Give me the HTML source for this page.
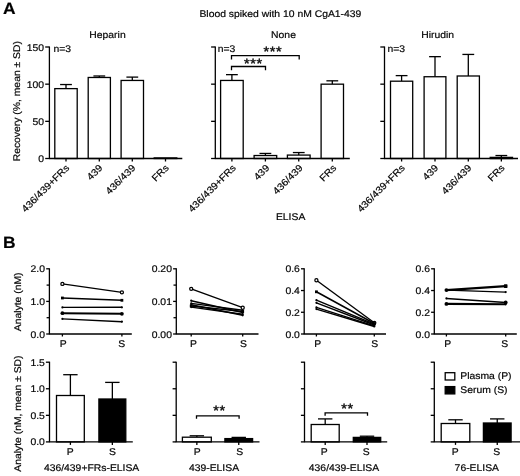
<!DOCTYPE html>
<html><head><meta charset="utf-8"><title>Figure</title>
<style>
html,body{margin:0;padding:0;background:#fff;}
svg{display:block;}
svg text{text-rendering:geometricPrecision;stroke:#111;stroke-width:0.2px;font-family:"Liberation Sans",sans-serif;fill:#000;}
</style></head><body>
<svg width="520" height="476" viewBox="0 0 520 476">
<rect x="0" y="0" width="520" height="476" fill="#fff"/>
<text transform="translate(3.1,14) scale(1.07,1)" font-size="16.3" text-anchor="start" font-weight="bold" >A</text>
<text transform="translate(280.4,17) scale(1.07,1)" font-size="9.7" text-anchor="middle" font-weight="normal" >Blood spiked with 10 nM CgA1-439</text>
<text transform="translate(19.6,101.2) rotate(-90) scale(1.07,1)" font-size="9.7" text-anchor="middle">Recovery (%, mean ± SD)</text>
<line x1="66.0" y1="88.62666666666667" x2="66.0" y2="84.53833333333333" stroke="#000" stroke-width="1.3" />
<line x1="60.1" y1="84.53833333333333" x2="71.9" y2="84.53833333333333" stroke="#000" stroke-width="1.3" />
<rect x="54.8" y="88.62666666666667" width="22.400000000000006" height="69.87333333333333" fill="#fff" stroke="#000" stroke-width="1.3"/>
<line x1="99.30000000000001" y1="77.47666666666667" x2="99.30000000000001" y2="75.99" stroke="#000" stroke-width="1.3" />
<line x1="93.4" y1="75.99" x2="105.20000000000002" y2="75.99" stroke="#000" stroke-width="1.3" />
<rect x="88.2" y="77.47666666666667" width="22.200000000000003" height="81.02333333333333" fill="#fff" stroke="#000" stroke-width="1.3"/>
<line x1="132.3" y1="80.45" x2="132.3" y2="77.105" stroke="#000" stroke-width="1.3" />
<line x1="126.4" y1="77.105" x2="138.20000000000002" y2="77.105" stroke="#000" stroke-width="1.3" />
<rect x="121.1" y="80.45" width="22.400000000000006" height="78.05" fill="#fff" stroke="#000" stroke-width="1.3"/>
<rect x="154.2" y="157.90533333333335" width="22.600000000000023" height="0.5946666666666545" fill="#fff" stroke="#000" stroke-width="1.3"/>
<line x1="49.4" y1="46.5" x2="49.4" y2="158.5" stroke="#000" stroke-width="1.3" />
<line x1="48.9" y1="158.5" x2="182.3" y2="158.5" stroke="#000" stroke-width="1.3" />
<line x1="45.199999999999996" y1="158.5" x2="49.4" y2="158.5" stroke="#000" stroke-width="1.3" />
<text transform="translate(44.1,162.0) scale(1.07,1)" font-size="9.7" text-anchor="end" font-weight="normal" >0</text>
<line x1="45.199999999999996" y1="121.33333333333334" x2="49.4" y2="121.33333333333334" stroke="#000" stroke-width="1.3" />
<text transform="translate(44.1,124.83333333333334) scale(1.07,1)" font-size="9.7" text-anchor="end" font-weight="normal" >50</text>
<line x1="45.199999999999996" y1="84.16666666666667" x2="49.4" y2="84.16666666666667" stroke="#000" stroke-width="1.3" />
<text transform="translate(44.1,87.66666666666667) scale(1.07,1)" font-size="9.7" text-anchor="end" font-weight="normal" >100</text>
<line x1="45.199999999999996" y1="47.0" x2="49.4" y2="47.0" stroke="#000" stroke-width="1.3" />
<text transform="translate(44.1,50.5) scale(1.07,1)" font-size="9.7" text-anchor="end" font-weight="normal" >150</text>
<line x1="66.0" y1="158.5" x2="66.0" y2="161.5" stroke="#000" stroke-width="1.3" />
<text transform="translate(69.8,168.5) rotate(-45) scale(1.07,1)" font-size="9.7" text-anchor="end">436/439+FRs</text>
<line x1="99.30000000000001" y1="158.5" x2="99.30000000000001" y2="161.5" stroke="#000" stroke-width="1.3" />
<text transform="translate(103.10000000000001,168.5) rotate(-45) scale(1.07,1)" font-size="9.7" text-anchor="end">439</text>
<line x1="132.3" y1="158.5" x2="132.3" y2="161.5" stroke="#000" stroke-width="1.3" />
<text transform="translate(136.10000000000002,168.5) rotate(-45) scale(1.07,1)" font-size="9.7" text-anchor="end">436/439</text>
<line x1="165.5" y1="158.5" x2="165.5" y2="161.5" stroke="#000" stroke-width="1.3" />
<text transform="translate(169.3,168.5) rotate(-45) scale(1.07,1)" font-size="9.7" text-anchor="end">FRs</text>
<text transform="translate(107.5,38.45) scale(1.07,1)" font-size="9.7" text-anchor="middle" font-weight="normal" >Heparin</text>
<text transform="translate(53.5,52.3) scale(1.07,1)" font-size="9.7" text-anchor="start" font-weight="normal" >n=3</text>
<line x1="231.89999999999998" y1="80.45" x2="231.89999999999998" y2="74.652" stroke="#000" stroke-width="1.3" />
<line x1="225.99999999999997" y1="74.652" x2="237.79999999999998" y2="74.652" stroke="#000" stroke-width="1.3" />
<rect x="220.6" y="80.45" width="22.599999999999994" height="78.05" fill="#fff" stroke="#000" stroke-width="1.3"/>
<line x1="265.4" y1="155.52666666666667" x2="265.4" y2="153.44533333333334" stroke="#000" stroke-width="1.3" />
<line x1="259.5" y1="153.44533333333334" x2="271.29999999999995" y2="153.44533333333334" stroke="#000" stroke-width="1.3" />
<rect x="254.1" y="155.52666666666667" width="22.599999999999994" height="2.973333333333329" fill="#fff" stroke="#000" stroke-width="1.3"/>
<line x1="298.75" y1="155.08066666666667" x2="298.75" y2="152.55333333333334" stroke="#000" stroke-width="1.3" />
<line x1="292.85" y1="152.55333333333334" x2="304.65" y2="152.55333333333334" stroke="#000" stroke-width="1.3" />
<rect x="287.4" y="155.08066666666667" width="22.700000000000045" height="3.419333333333327" fill="#fff" stroke="#000" stroke-width="1.3"/>
<line x1="332.3" y1="84.16666666666667" x2="332.3" y2="80.82166666666667" stroke="#000" stroke-width="1.3" />
<line x1="326.40000000000003" y1="80.82166666666667" x2="338.2" y2="80.82166666666667" stroke="#000" stroke-width="1.3" />
<rect x="321.1" y="84.16666666666667" width="22.399999999999977" height="74.33333333333333" fill="#fff" stroke="#000" stroke-width="1.3"/>
<line x1="215.3" y1="46.5" x2="215.3" y2="158.5" stroke="#000" stroke-width="1.3" />
<line x1="214.8" y1="158.5" x2="349.8" y2="158.5" stroke="#000" stroke-width="1.3" />
<line x1="211.10000000000002" y1="158.5" x2="215.3" y2="158.5" stroke="#000" stroke-width="1.3" />
<line x1="211.10000000000002" y1="121.33333333333334" x2="215.3" y2="121.33333333333334" stroke="#000" stroke-width="1.3" />
<line x1="211.10000000000002" y1="84.16666666666667" x2="215.3" y2="84.16666666666667" stroke="#000" stroke-width="1.3" />
<line x1="211.10000000000002" y1="47.0" x2="215.3" y2="47.0" stroke="#000" stroke-width="1.3" />
<line x1="231.89999999999998" y1="158.5" x2="231.89999999999998" y2="161.5" stroke="#000" stroke-width="1.3" />
<text transform="translate(236.5,168.5) rotate(-45) scale(1.07,1)" font-size="9.7" text-anchor="end">436/439+FRs</text>
<line x1="265.4" y1="158.5" x2="265.4" y2="161.5" stroke="#000" stroke-width="1.3" />
<text transform="translate(270.0,168.5) rotate(-45) scale(1.07,1)" font-size="9.7" text-anchor="end">439</text>
<line x1="298.75" y1="158.5" x2="298.75" y2="161.5" stroke="#000" stroke-width="1.3" />
<text transform="translate(303.35,168.5) rotate(-45) scale(1.07,1)" font-size="9.7" text-anchor="end">436/439</text>
<line x1="332.3" y1="158.5" x2="332.3" y2="161.5" stroke="#000" stroke-width="1.3" />
<text transform="translate(336.90000000000003,168.5) rotate(-45) scale(1.07,1)" font-size="9.7" text-anchor="end">FRs</text>
<text transform="translate(283.5,38.45) scale(1.07,1)" font-size="9.7" text-anchor="middle" font-weight="normal" >None</text>
<text transform="translate(217.8,52.3) scale(1.07,1)" font-size="9.7" text-anchor="start" font-weight="normal" >n=3</text>
<line x1="401.6" y1="81.19333333333333" x2="401.6" y2="75.61833333333334" stroke="#000" stroke-width="1.3" />
<line x1="395.70000000000005" y1="75.61833333333334" x2="407.5" y2="75.61833333333334" stroke="#000" stroke-width="1.3" />
<rect x="390.5" y="81.19333333333333" width="22.19999999999999" height="77.30666666666667" fill="#fff" stroke="#000" stroke-width="1.3"/>
<line x1="435.0" y1="76.73333333333333" x2="435.0" y2="56.66333333333333" stroke="#000" stroke-width="1.3" />
<line x1="429.1" y1="56.66333333333333" x2="440.9" y2="56.66333333333333" stroke="#000" stroke-width="1.3" />
<rect x="424.1" y="76.73333333333333" width="21.799999999999955" height="81.76666666666667" fill="#fff" stroke="#000" stroke-width="1.3"/>
<line x1="468.29999999999995" y1="75.99" x2="468.29999999999995" y2="54.43333333333334" stroke="#000" stroke-width="1.3" />
<line x1="462.4" y1="54.43333333333334" x2="474.19999999999993" y2="54.43333333333334" stroke="#000" stroke-width="1.3" />
<rect x="457.2" y="75.99" width="22.19999999999999" height="82.51" fill="#fff" stroke="#000" stroke-width="1.3"/>
<line x1="501.35" y1="157.385" x2="501.35" y2="155.52666666666667" stroke="#000" stroke-width="1.3" />
<line x1="495.45000000000005" y1="155.52666666666667" x2="507.25" y2="155.52666666666667" stroke="#000" stroke-width="1.3" />
<rect x="490.2" y="157.385" width="22.30000000000001" height="1.115000000000009" fill="#fff" stroke="#000" stroke-width="1.3"/>
<line x1="384.5" y1="46.5" x2="384.5" y2="158.5" stroke="#000" stroke-width="1.3" />
<line x1="384.0" y1="158.5" x2="518" y2="158.5" stroke="#000" stroke-width="1.3" />
<line x1="380.3" y1="158.5" x2="384.5" y2="158.5" stroke="#000" stroke-width="1.3" />
<line x1="380.3" y1="121.33333333333334" x2="384.5" y2="121.33333333333334" stroke="#000" stroke-width="1.3" />
<line x1="380.3" y1="84.16666666666667" x2="384.5" y2="84.16666666666667" stroke="#000" stroke-width="1.3" />
<line x1="380.3" y1="47.0" x2="384.5" y2="47.0" stroke="#000" stroke-width="1.3" />
<line x1="401.6" y1="158.5" x2="401.6" y2="161.5" stroke="#000" stroke-width="1.3" />
<text transform="translate(405.40000000000003,168.5) rotate(-45) scale(1.07,1)" font-size="9.7" text-anchor="end">436/439+FRs</text>
<line x1="435.0" y1="158.5" x2="435.0" y2="161.5" stroke="#000" stroke-width="1.3" />
<text transform="translate(438.8,168.5) rotate(-45) scale(1.07,1)" font-size="9.7" text-anchor="end">439</text>
<line x1="468.29999999999995" y1="158.5" x2="468.29999999999995" y2="161.5" stroke="#000" stroke-width="1.3" />
<text transform="translate(472.09999999999997,168.5) rotate(-45) scale(1.07,1)" font-size="9.7" text-anchor="end">436/439</text>
<line x1="501.35" y1="158.5" x2="501.35" y2="161.5" stroke="#000" stroke-width="1.3" />
<text transform="translate(505.15000000000003,168.5) rotate(-45) scale(1.07,1)" font-size="9.7" text-anchor="end">FRs</text>
<text transform="translate(437.7,38.45) scale(1.07,1)" font-size="9.7" text-anchor="middle" font-weight="normal" >Hirudin</text>
<text transform="translate(387.5,52.3) scale(1.07,1)" font-size="9.7" text-anchor="start" font-weight="normal" >n=3</text>
<polyline points="231.5,59.400000000000006 231.5,55.7 299.2,55.7 299.2,59.400000000000006" fill="none" stroke="#000" stroke-width="1.3"/>
<polyline points="231.5,70.2 231.5,66.5 265.5,66.5 265.5,70.2" fill="none" stroke="#000" stroke-width="1.3"/>
<text transform="translate(272.8,56.2) scale(1.07,1)" font-size="13.5" text-anchor="middle" font-weight="normal" letter-spacing="0.55" style="stroke-width:0.4px">***</text>
<text transform="translate(253.3,68.2) scale(1.07,1)" font-size="13.5" text-anchor="middle" font-weight="normal" letter-spacing="0.55" style="stroke-width:0.4px">***</text>
<text transform="translate(290.6,220.2) scale(1.07,1)" font-size="9.7" text-anchor="middle" font-weight="normal" >ELISA</text>
<text transform="translate(2.9,247.9) scale(1.07,1)" font-size="16.3" text-anchor="start" font-weight="bold" >B</text>
<text transform="translate(20.8,301.9) rotate(-90) scale(1.07,1)" font-size="9.7" text-anchor="middle">Analyte (nM)</text>
<text transform="translate(21,413.6) rotate(-90) scale(1.07,1)" font-size="9.7" text-anchor="middle">Analyte (nM, mean ± SD)</text>
<line x1="62.4" y1="283.9" x2="121.9" y2="292.3" stroke="#000" stroke-width="1.35" />
<circle cx="62.4" cy="283.9" r="1.55" fill="#fff" stroke="#000" stroke-width="1.25"/>
<circle cx="121.9" cy="292.3" r="1.55" fill="#fff" stroke="#000" stroke-width="1.25"/>
<line x1="62.4" y1="298" x2="121.9" y2="300.3" stroke="#000" stroke-width="1.55" />
<rect x="61.0" y="296.6" width="2.8" height="2.8" fill="#000"/>
<rect x="120.5" y="298.90000000000003" width="2.8" height="2.8" fill="#000"/>
<line x1="62.4" y1="307.4" x2="121.9" y2="307.3" stroke="#000" stroke-width="1.4" />
<circle cx="62.4" cy="307.4" r="1.1" fill="#000"/>
<circle cx="121.9" cy="307.3" r="1.1" fill="#000"/>
<line x1="62.4" y1="313.2" x2="121.9" y2="313.8" stroke="#000" stroke-width="2.0" />
<circle cx="62.4" cy="313.2" r="1.9" fill="#000"/>
<circle cx="121.9" cy="313.8" r="1.9" fill="#000"/>
<line x1="62.4" y1="318.9" x2="121.9" y2="321.7" stroke="#000" stroke-width="1.4" />
<circle cx="62.4" cy="318.9" r="1.1" fill="#000"/>
<circle cx="121.9" cy="321.7" r="1.1" fill="#000"/>
<line x1="49.4" y1="268.3" x2="49.4" y2="334.0" stroke="#000" stroke-width="1.3" />
<line x1="48.9" y1="334.0" x2="131.8" y2="334.0" stroke="#000" stroke-width="1.3" />
<line x1="46.199999999999996" y1="268.8" x2="49.4" y2="268.8" stroke="#000" stroke-width="1.3" />
<text transform="translate(44.99999999999999,272.3) scale(1.07,1)" font-size="9.7" text-anchor="end" font-weight="normal" >2.0</text>
<line x1="46.199999999999996" y1="301.4" x2="49.4" y2="301.4" stroke="#000" stroke-width="1.3" />
<text transform="translate(44.99999999999999,304.9) scale(1.07,1)" font-size="9.7" text-anchor="end" font-weight="normal" >1.0</text>
<line x1="46.199999999999996" y1="334.0" x2="49.4" y2="334.0" stroke="#000" stroke-width="1.3" />
<text transform="translate(44.99999999999999,337.5) scale(1.07,1)" font-size="9.7" text-anchor="end" font-weight="normal" >0.0</text>
<line x1="46.6" y1="285.1" x2="49.4" y2="285.1" stroke="#000" stroke-width="1.3" />
<line x1="46.6" y1="317.7" x2="49.4" y2="317.7" stroke="#000" stroke-width="1.3" />
<line x1="62.4" y1="334.0" x2="62.4" y2="336.5" stroke="#000" stroke-width="1.3" />
<text transform="translate(63.1,346.7) scale(1.07,1)" font-size="9.7" text-anchor="middle" font-weight="normal" >P</text>
<line x1="121.9" y1="334.0" x2="121.9" y2="336.5" stroke="#000" stroke-width="1.3" />
<text transform="translate(121.8,346.7) scale(1.07,1)" font-size="9.7" text-anchor="middle" font-weight="normal" >S</text>
<line x1="191.2" y1="300.7" x2="242.7" y2="312.5" stroke="#000" stroke-width="1.4" />
<circle cx="191.2" cy="300.7" r="1.1" fill="#000"/>
<circle cx="242.7" cy="312.5" r="1.1" fill="#000"/>
<line x1="191.2" y1="303.4" x2="242.7" y2="310.3" stroke="#000" stroke-width="1.4" />
<circle cx="191.2" cy="303.4" r="1.1" fill="#000"/>
<circle cx="242.7" cy="310.3" r="1.1" fill="#000"/>
<line x1="191.2" y1="304.8" x2="242.7" y2="315.3" stroke="#000" stroke-width="1.4" />
<circle cx="191.2" cy="304.8" r="1.1" fill="#000"/>
<circle cx="242.7" cy="315.3" r="1.1" fill="#000"/>
<line x1="191.2" y1="306.0" x2="242.7" y2="311.5" stroke="#000" stroke-width="1.55" />
<rect x="189.79999999999998" y="304.6" width="2.8" height="2.8" fill="#000"/>
<rect x="241.29999999999998" y="310.1" width="2.8" height="2.8" fill="#000"/>
<line x1="191.2" y1="307.1" x2="242.7" y2="314.2" stroke="#000" stroke-width="1.4" />
<circle cx="191.2" cy="307.1" r="1.1" fill="#000"/>
<circle cx="242.7" cy="314.2" r="1.1" fill="#000"/>
<line x1="191.2" y1="288.8" x2="242.7" y2="307.7" stroke="#000" stroke-width="1.35" />
<circle cx="191.2" cy="288.8" r="1.55" fill="#fff" stroke="#000" stroke-width="1.25"/>
<circle cx="242.7" cy="307.7" r="1.55" fill="#fff" stroke="#000" stroke-width="1.25"/>
<line x1="176.3" y1="268.3" x2="176.3" y2="334.0" stroke="#000" stroke-width="1.3" />
<line x1="175.8" y1="334.0" x2="258.5" y2="334.0" stroke="#000" stroke-width="1.3" />
<line x1="173.10000000000002" y1="268.8" x2="176.3" y2="268.8" stroke="#000" stroke-width="1.3" />
<text transform="translate(171.90000000000003,272.3) scale(1.07,1)" font-size="9.7" text-anchor="end" font-weight="normal" >0.20</text>
<line x1="173.10000000000002" y1="301.4" x2="176.3" y2="301.4" stroke="#000" stroke-width="1.3" />
<text transform="translate(171.90000000000003,304.9) scale(1.07,1)" font-size="9.7" text-anchor="end" font-weight="normal" >0.01</text>
<line x1="173.10000000000002" y1="334.0" x2="176.3" y2="334.0" stroke="#000" stroke-width="1.3" />
<text transform="translate(171.90000000000003,337.5) scale(1.07,1)" font-size="9.7" text-anchor="end" font-weight="normal" >0.00</text>
<line x1="173.5" y1="285.1" x2="176.3" y2="285.1" stroke="#000" stroke-width="1.3" />
<line x1="173.5" y1="317.7" x2="176.3" y2="317.7" stroke="#000" stroke-width="1.3" />
<line x1="191.2" y1="334.0" x2="191.2" y2="336.5" stroke="#000" stroke-width="1.3" />
<text transform="translate(193.4,346.7) scale(1.07,1)" font-size="9.7" text-anchor="middle" font-weight="normal" >P</text>
<line x1="242.7" y1="334.0" x2="242.7" y2="336.5" stroke="#000" stroke-width="1.3" />
<text transform="translate(243.5,346.7) scale(1.07,1)" font-size="9.7" text-anchor="middle" font-weight="normal" >S</text>
<line x1="316.4" y1="280.2" x2="374.3" y2="322.8" stroke="#000" stroke-width="1.35" />
<circle cx="316.4" cy="280.2" r="1.55" fill="#fff" stroke="#000" stroke-width="1.25"/>
<circle cx="374.3" cy="322.8" r="1.55" fill="#fff" stroke="#000" stroke-width="1.25"/>
<line x1="316.4" y1="291.8" x2="374.3" y2="323.5" stroke="#000" stroke-width="1.55" />
<rect x="315.0" y="290.40000000000003" width="2.8" height="2.8" fill="#000"/>
<rect x="372.90000000000003" y="322.1" width="2.8" height="2.8" fill="#000"/>
<line x1="316.4" y1="300.2" x2="374.3" y2="324.2" stroke="#000" stroke-width="1.4" />
<circle cx="316.4" cy="300.2" r="1.1" fill="#000"/>
<circle cx="374.3" cy="324.2" r="1.1" fill="#000"/>
<line x1="316.4" y1="302.8" x2="374.3" y2="325" stroke="#000" stroke-width="1.4" />
<circle cx="316.4" cy="302.8" r="1.1" fill="#000"/>
<circle cx="374.3" cy="325" r="1.1" fill="#000"/>
<line x1="316.4" y1="307.4" x2="374.3" y2="325.8" stroke="#000" stroke-width="1.4" />
<circle cx="316.4" cy="307.4" r="1.1" fill="#000"/>
<circle cx="374.3" cy="325.8" r="1.1" fill="#000"/>
<line x1="316.4" y1="309.1" x2="374.3" y2="326.5" stroke="#000" stroke-width="1.4" />
<circle cx="316.4" cy="309.1" r="1.1" fill="#000"/>
<circle cx="374.3" cy="326.5" r="1.1" fill="#000"/>
<line x1="304.2" y1="268.3" x2="304.2" y2="334.0" stroke="#000" stroke-width="1.3" />
<line x1="303.7" y1="334.0" x2="386" y2="334.0" stroke="#000" stroke-width="1.3" />
<line x1="301.0" y1="268.8" x2="304.2" y2="268.8" stroke="#000" stroke-width="1.3" />
<text transform="translate(299.8,272.3) scale(1.07,1)" font-size="9.7" text-anchor="end" font-weight="normal" >0.6</text>
<line x1="301.0" y1="290.53333333333336" x2="304.2" y2="290.53333333333336" stroke="#000" stroke-width="1.3" />
<text transform="translate(299.8,294.03333333333336) scale(1.07,1)" font-size="9.7" text-anchor="end" font-weight="normal" >0.4</text>
<line x1="301.0" y1="312.26666666666665" x2="304.2" y2="312.26666666666665" stroke="#000" stroke-width="1.3" />
<text transform="translate(299.8,315.76666666666665) scale(1.07,1)" font-size="9.7" text-anchor="end" font-weight="normal" >0.2</text>
<line x1="301.0" y1="334.0" x2="304.2" y2="334.0" stroke="#000" stroke-width="1.3" />
<text transform="translate(299.8,337.5) scale(1.07,1)" font-size="9.7" text-anchor="end" font-weight="normal" >0.0</text>
<line x1="316.4" y1="334.0" x2="316.4" y2="336.5" stroke="#000" stroke-width="1.3" />
<text transform="translate(317.6,346.7) scale(1.07,1)" font-size="9.7" text-anchor="middle" font-weight="normal" >P</text>
<line x1="374.3" y1="334.0" x2="374.3" y2="336.5" stroke="#000" stroke-width="1.3" />
<text transform="translate(374.6,346.7) scale(1.07,1)" font-size="9.7" text-anchor="middle" font-weight="normal" >S</text>
<line x1="446.4" y1="290.1" x2="505.7" y2="286.1" stroke="#000" stroke-width="2.1" />
<circle cx="446.4" cy="290.1" r="1.9" fill="#000"/>
<rect x="503.9" y="284.3" width="3.6" height="3.6" rx="0.6" fill="#000"/>
<line x1="446.4" y1="290.1" x2="505.7" y2="292.1" stroke="#000" stroke-width="1.3" />
<circle cx="446.4" cy="290.1" r="1.1" fill="#000"/>
<circle cx="505.7" cy="292.1" r="1.1" fill="#000"/>
<line x1="446.4" y1="298.4" x2="505.7" y2="302.4" stroke="#000" stroke-width="1.5" />
<circle cx="446.4" cy="298.4" r="1.1" fill="#000"/>
<circle cx="505.7" cy="302.4" r="1.9" fill="#000"/>
<line x1="446.4" y1="303.9" x2="505.7" y2="304.3" stroke="#000" stroke-width="2.1" />
<circle cx="446.4" cy="303.9" r="1.9" fill="#000"/>
<circle cx="505.7" cy="304.3" r="1.1" fill="#000"/>
<line x1="434.3" y1="268.3" x2="434.3" y2="334.0" stroke="#000" stroke-width="1.3" />
<line x1="433.8" y1="334.0" x2="516.8" y2="334.0" stroke="#000" stroke-width="1.3" />
<line x1="431.1" y1="268.8" x2="434.3" y2="268.8" stroke="#000" stroke-width="1.3" />
<text transform="translate(429.90000000000003,272.3) scale(1.07,1)" font-size="9.7" text-anchor="end" font-weight="normal" >0.6</text>
<line x1="431.1" y1="290.53333333333336" x2="434.3" y2="290.53333333333336" stroke="#000" stroke-width="1.3" />
<text transform="translate(429.90000000000003,294.03333333333336) scale(1.07,1)" font-size="9.7" text-anchor="end" font-weight="normal" >0.4</text>
<line x1="431.1" y1="312.26666666666665" x2="434.3" y2="312.26666666666665" stroke="#000" stroke-width="1.3" />
<text transform="translate(429.90000000000003,315.76666666666665) scale(1.07,1)" font-size="9.7" text-anchor="end" font-weight="normal" >0.2</text>
<line x1="431.1" y1="334.0" x2="434.3" y2="334.0" stroke="#000" stroke-width="1.3" />
<text transform="translate(429.90000000000003,337.5) scale(1.07,1)" font-size="9.7" text-anchor="end" font-weight="normal" >0.0</text>
<line x1="446.4" y1="334.0" x2="446.4" y2="336.5" stroke="#000" stroke-width="1.3" />
<text transform="translate(447.8,346.7) scale(1.07,1)" font-size="9.7" text-anchor="middle" font-weight="normal" >P</text>
<line x1="505.7" y1="334.0" x2="505.7" y2="336.5" stroke="#000" stroke-width="1.3" />
<text transform="translate(504.6,346.7) scale(1.07,1)" font-size="9.7" text-anchor="middle" font-weight="normal" >S</text>
<line x1="70.4" y1="395.5" x2="70.4" y2="374.7" stroke="#000" stroke-width="1.3" />
<line x1="63.2" y1="374.7" x2="77.60000000000001" y2="374.7" stroke="#000" stroke-width="1.3" />
<rect x="56.5" y="395.5" width="27.799999999999997" height="46.39999999999998" fill="#fff" stroke="#000" stroke-width="1.3"/>
<line x1="70.4" y1="441.9" x2="70.4" y2="444.9" stroke="#000" stroke-width="1.3" />
<line x1="112.35" y1="399" x2="112.35" y2="382.4" stroke="#000" stroke-width="1.3" />
<line x1="105.14999999999999" y1="382.4" x2="119.55" y2="382.4" stroke="#000" stroke-width="1.3" />
<rect x="98.9" y="399" width="26.89999999999999" height="42.89999999999998" fill="#000" stroke="#000" stroke-width="1.3"/>
<line x1="112.35" y1="441.9" x2="112.35" y2="444.9" stroke="#000" stroke-width="1.3" />
<line x1="49.5" y1="361.7" x2="49.5" y2="441.9" stroke="#000" stroke-width="1.3" />
<line x1="49.0" y1="441.9" x2="132.8" y2="441.9" stroke="#000" stroke-width="1.3" />
<line x1="45.9" y1="362.2" x2="49.5" y2="362.2" stroke="#000" stroke-width="1.3" />
<text transform="translate(44.8,365.7) scale(1.07,1)" font-size="9.7" text-anchor="end" font-weight="normal" >1.5</text>
<line x1="45.9" y1="388.76666666666665" x2="49.5" y2="388.76666666666665" stroke="#000" stroke-width="1.3" />
<text transform="translate(44.8,392.26666666666665) scale(1.07,1)" font-size="9.7" text-anchor="end" font-weight="normal" >1.0</text>
<line x1="45.9" y1="415.3333333333333" x2="49.5" y2="415.3333333333333" stroke="#000" stroke-width="1.3" />
<text transform="translate(44.8,418.8333333333333) scale(1.07,1)" font-size="9.7" text-anchor="end" font-weight="normal" >0.5</text>
<line x1="45.9" y1="441.9" x2="49.5" y2="441.9" stroke="#000" stroke-width="1.3" />
<text transform="translate(44.8,445.4) scale(1.07,1)" font-size="9.7" text-anchor="end" font-weight="normal" >0.0</text>
<text transform="translate(70.3,455.4) scale(1.07,1)" font-size="9.7" text-anchor="middle" font-weight="normal" >P</text>
<text transform="translate(112.5,455.4) scale(1.07,1)" font-size="9.7" text-anchor="middle" font-weight="normal" >S</text>
<text transform="translate(91.6,471.0) scale(1.07,1)" font-size="9.7" text-anchor="middle" font-weight="normal" >436/439+FRs-ELISA</text>
<line x1="196.85000000000002" y1="437.2" x2="196.85000000000002" y2="435.8" stroke="#000" stroke-width="1.3" />
<line x1="189.65000000000003" y1="435.8" x2="204.05" y2="435.8" stroke="#000" stroke-width="1.3" />
<rect x="182.4" y="437.2" width="28.900000000000006" height="4.699999999999989" fill="#fff" stroke="#000" stroke-width="1.3"/>
<line x1="196.85000000000002" y1="441.9" x2="196.85000000000002" y2="444.9" stroke="#000" stroke-width="1.3" />
<line x1="238.75" y1="438.6" x2="238.75" y2="437.4" stroke="#000" stroke-width="1.3" />
<line x1="231.55" y1="437.4" x2="245.95" y2="437.4" stroke="#000" stroke-width="1.3" />
<rect x="224.9" y="438.6" width="27.69999999999999" height="3.2999999999999545" fill="#000" stroke="#000" stroke-width="1.3"/>
<line x1="238.75" y1="441.9" x2="238.75" y2="444.9" stroke="#000" stroke-width="1.3" />
<line x1="176.2" y1="361.7" x2="176.2" y2="441.9" stroke="#000" stroke-width="1.3" />
<line x1="175.7" y1="441.9" x2="259.5" y2="441.9" stroke="#000" stroke-width="1.3" />
<line x1="172.6" y1="362.2" x2="176.2" y2="362.2" stroke="#000" stroke-width="1.3" />
<line x1="172.6" y1="388.76666666666665" x2="176.2" y2="388.76666666666665" stroke="#000" stroke-width="1.3" />
<line x1="172.6" y1="415.3333333333333" x2="176.2" y2="415.3333333333333" stroke="#000" stroke-width="1.3" />
<line x1="172.6" y1="441.9" x2="176.2" y2="441.9" stroke="#000" stroke-width="1.3" />
<text transform="translate(197.2,455.4) scale(1.07,1)" font-size="9.7" text-anchor="middle" font-weight="normal" >P</text>
<text transform="translate(239.8,455.4) scale(1.07,1)" font-size="9.7" text-anchor="middle" font-weight="normal" >S</text>
<text transform="translate(214.0,471.0) scale(1.07,1)" font-size="9.7" text-anchor="middle" font-weight="normal" >439-ELISA</text>
<line x1="325.2" y1="424.5" x2="325.2" y2="418.9" stroke="#000" stroke-width="1.3" />
<line x1="318.0" y1="418.9" x2="332.4" y2="418.9" stroke="#000" stroke-width="1.3" />
<rect x="311.2" y="424.5" width="28.0" height="17.399999999999977" fill="#fff" stroke="#000" stroke-width="1.3"/>
<line x1="325.2" y1="441.9" x2="325.2" y2="444.9" stroke="#000" stroke-width="1.3" />
<line x1="367.0" y1="437.4" x2="367.0" y2="436.2" stroke="#000" stroke-width="1.3" />
<line x1="359.8" y1="436.2" x2="374.2" y2="436.2" stroke="#000" stroke-width="1.3" />
<rect x="353.3" y="437.4" width="27.399999999999977" height="4.5" fill="#000" stroke="#000" stroke-width="1.3"/>
<line x1="367.0" y1="441.9" x2="367.0" y2="444.9" stroke="#000" stroke-width="1.3" />
<line x1="304.5" y1="361.7" x2="304.5" y2="441.9" stroke="#000" stroke-width="1.3" />
<line x1="304.0" y1="441.9" x2="387.2" y2="441.9" stroke="#000" stroke-width="1.3" />
<line x1="300.9" y1="362.2" x2="304.5" y2="362.2" stroke="#000" stroke-width="1.3" />
<line x1="300.9" y1="388.76666666666665" x2="304.5" y2="388.76666666666665" stroke="#000" stroke-width="1.3" />
<line x1="300.9" y1="415.3333333333333" x2="304.5" y2="415.3333333333333" stroke="#000" stroke-width="1.3" />
<line x1="300.9" y1="441.9" x2="304.5" y2="441.9" stroke="#000" stroke-width="1.3" />
<text transform="translate(324.3,455.4) scale(1.07,1)" font-size="9.7" text-anchor="middle" font-weight="normal" >P</text>
<text transform="translate(366.3,455.4) scale(1.07,1)" font-size="9.7" text-anchor="middle" font-weight="normal" >S</text>
<text transform="translate(344.0,471.0) scale(1.07,1)" font-size="9.7" text-anchor="middle" font-weight="normal" >436/439-ELISA</text>
<line x1="455.5" y1="423.5" x2="455.5" y2="419.8" stroke="#000" stroke-width="1.3" />
<line x1="448.3" y1="419.8" x2="462.7" y2="419.8" stroke="#000" stroke-width="1.3" />
<rect x="441.2" y="423.5" width="28.600000000000023" height="18.399999999999977" fill="#fff" stroke="#000" stroke-width="1.3"/>
<line x1="455.5" y1="441.9" x2="455.5" y2="444.9" stroke="#000" stroke-width="1.3" />
<line x1="497.25" y1="423" x2="497.25" y2="418.9" stroke="#000" stroke-width="1.3" />
<line x1="490.05" y1="418.9" x2="504.45" y2="418.9" stroke="#000" stroke-width="1.3" />
<rect x="483.4" y="423" width="27.700000000000045" height="18.899999999999977" fill="#000" stroke="#000" stroke-width="1.3"/>
<line x1="497.25" y1="441.9" x2="497.25" y2="444.9" stroke="#000" stroke-width="1.3" />
<line x1="434.3" y1="361.7" x2="434.3" y2="441.9" stroke="#000" stroke-width="1.3" />
<line x1="433.8" y1="441.9" x2="521" y2="441.9" stroke="#000" stroke-width="1.3" />
<line x1="430.7" y1="362.2" x2="434.3" y2="362.2" stroke="#000" stroke-width="1.3" />
<line x1="430.7" y1="388.76666666666665" x2="434.3" y2="388.76666666666665" stroke="#000" stroke-width="1.3" />
<line x1="430.7" y1="415.3333333333333" x2="434.3" y2="415.3333333333333" stroke="#000" stroke-width="1.3" />
<line x1="430.7" y1="441.9" x2="434.3" y2="441.9" stroke="#000" stroke-width="1.3" />
<text transform="translate(455.1,455.4) scale(1.07,1)" font-size="9.7" text-anchor="middle" font-weight="normal" >P</text>
<text transform="translate(496.8,455.4) scale(1.07,1)" font-size="9.7" text-anchor="middle" font-weight="normal" >S</text>
<text transform="translate(476.8,471.0) scale(1.07,1)" font-size="9.7" text-anchor="middle" font-weight="normal" >76-ELISA</text>
<polyline points="196.5,418.7 196.5,415.9 239.1,415.9 239.1,418.7" fill="none" stroke="#000" stroke-width="1.3"/>
<text transform="translate(219.5,414.6) scale(1.07,1)" font-size="13.5" text-anchor="middle" font-weight="normal" letter-spacing="0.55" style="stroke-width:0.4px">**</text>
<polyline points="325.1,415.7 325.1,412.9 367.5,412.9 367.5,415.7" fill="none" stroke="#000" stroke-width="1.3"/>
<text transform="translate(347.4,413.0) scale(1.07,1)" font-size="13.5" text-anchor="middle" font-weight="normal" letter-spacing="0.55" style="stroke-width:0.4px">**</text>
<rect x="445.2" y="372.7" width="9.600000000000023" height="7.300000000000011" fill="#fff" stroke="#000" stroke-width="1.3"/>
<rect x="445.2" y="386.6" width="9.600000000000023" height="7.2999999999999545" fill="#000" stroke="#000" stroke-width="1.3"/>
<text transform="translate(460.3,379) scale(1.07,1)" font-size="9.7" text-anchor="start" font-weight="normal" >Plasma (P)</text>
<text transform="translate(460.3,392.9) scale(1.07,1)" font-size="9.7" text-anchor="start" font-weight="normal" >Serum (S)</text>
</svg>
</body></html>
